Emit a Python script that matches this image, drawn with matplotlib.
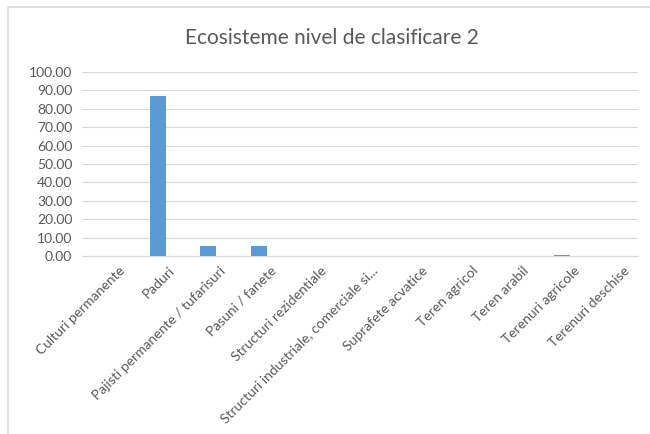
import matplotlib
matplotlib.use("Agg")
import matplotlib.pyplot as plt
from matplotlib.patches import Rectangle
from matplotlib.transforms import ScaledTranslation

categories = [
    "Culturi permanente",
    "Paduri",
    "Pajisti permanente / tufarisuri",
    "Pasuni / fanete",
    "Structuri rezidentiale",
    "Structuri industriale, comerciale si...",
    "Suprafete acvatice",
    "Teren agricol",
    "Teren arabil",
    "Terenuri agricole",
    "Terenuri deschise",
]
values = [0.0, 87.0, 5.2, 5.2, 0.0, 0.0, 0.0, 0.0, 0.0, 0.6, 0.0]
yticks = [0, 10, 20, 30, 40, 50, 60, 70, 80, 90, 100]

plt.rcParams["font.family"] = ["Lato", "DejaVu Sans"]

W, H = 650, 434
fig = plt.figure(figsize=(W / 100, H / 100), dpi=100)

# outer chart border (only top and left visible in the reference)
fig.patches.append(Rectangle((8 / W, -0.5), 2.0, 1.5 - 7 / H, transform=fig.transFigure,
                             fill=False, edgecolor="#d9d9d9", linewidth=1.2))

ax = fig.add_axes([82 / W, 1 - 256 / H, (638 - 82) / W, (256 - 72) / H])
x = range(len(categories))
ax.bar(x, values, width=0.32, color="#5b9bd5", zorder=3)

ax.set_xlim(-0.5, len(categories) - 0.5)
ax.set_ylim(0, 100)
ax.set_yticks(yticks)
ax.set_yticklabels([f"{v:.2f}" for v in yticks], fontsize=10, color="#595959")
ax.set_xticks(list(x))
ax.set_xticklabels(categories, rotation=45, ha="right", rotation_mode="anchor",
                   fontsize=10, color="#595959")
ax.tick_params(axis="y", length=0, pad=7)
ax.tick_params(axis="x", length=0, pad=6)
shift = ScaledTranslation(11 / 100, 0, fig.dpi_scale_trans)
for lbl in ax.get_xticklabels():
    lbl.set_transform(lbl.get_transform() + shift)
ax.grid(axis="y", color="#d9d9d9", linewidth=0.8, zorder=0)
for s in ["top", "right", "left"]:
    ax.spines[s].set_visible(False)
ax.spines["bottom"].set_color("#d9d9d9")

fig.text(332 / W, 1 - 38 / H, "Ecosisteme nivel de clasificare 2",
         ha="center", va="center", fontsize=15, color="#595959")

fig.savefig("out.png", dpi=100)
